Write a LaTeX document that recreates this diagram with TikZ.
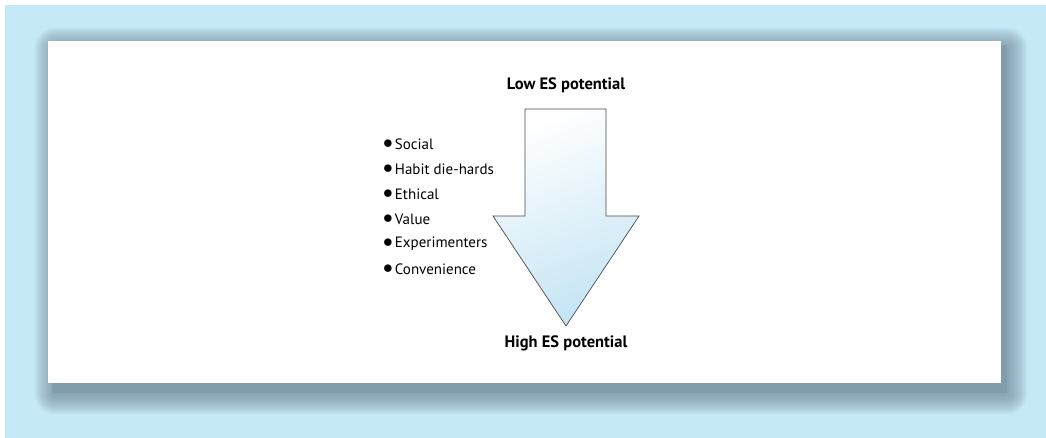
\documentclass[tikz,border=0pt]{standalone}
\usepackage{fontspec}
\setmainfont{PT Sans}
\usetikzlibrary{shadings}
\definecolor{bgblue}{HTML}{C6E9F8}
\definecolor{shadowc}{HTML}{6F8897}
\definecolor{arrowblue}{HTML}{C4E4F4}
\definecolor{edgec}{HTML}{4A4A4A}
\tikzset{
  item/.style={anchor=west, font=\fontsize{15}{17}\selectfont, inner sep=0pt},
  title/.style={font=\fontsize{16.5}{19}\selectfont\bfseries, inner sep=0pt},
}
\begin{document}
\begin{tikzpicture}[x=1pt,y=-1pt]
\useasboundingbox (0,0) rectangle (1046,438);
\fill[white] (0,0) rectangle (1046,438);
\fill[bgblue] (5,5) rectangle (1046,438);
% blurred shadow
\foreach \i in {0,...,14}{
  \fill[shadowc, opacity=0.065, rounded corners={1.4*\i+2}]
    ({54-1.4*\i},{47-1.4*\i}) rectangle ({1008+1.4*\i},{395+1.4*\i});
}
\fill[shadowc, opacity=0.3] (52,45) rectangle (1007,393);
\fill[white] (48,41) rectangle (1001,383);
% arrow
\shade[top color=white, bottom color=arrowblue, shading angle=20, draw=edgec, line width=0.7pt]
  (525,109) -- (606,109) -- (606,216) -- (639,216) -- (566,326) -- (493,216) -- (525,216) -- cycle;
\node[title] (low) at (566,85) {Low ES potential};
\node[title] (high) at (566,343) {High ES potential};
\foreach \t [count=\k] in {Social,Habit die-hards,Ethical,Value,Experimenters,Convenience}{
  \node[item] (it\k) at (383,{119+25*\k}) {\raisebox{0.05ex}{\scalebox{1.35}{$\bullet$}}\hspace{2pt}\t};
}
\end{tikzpicture}
\end{document}
